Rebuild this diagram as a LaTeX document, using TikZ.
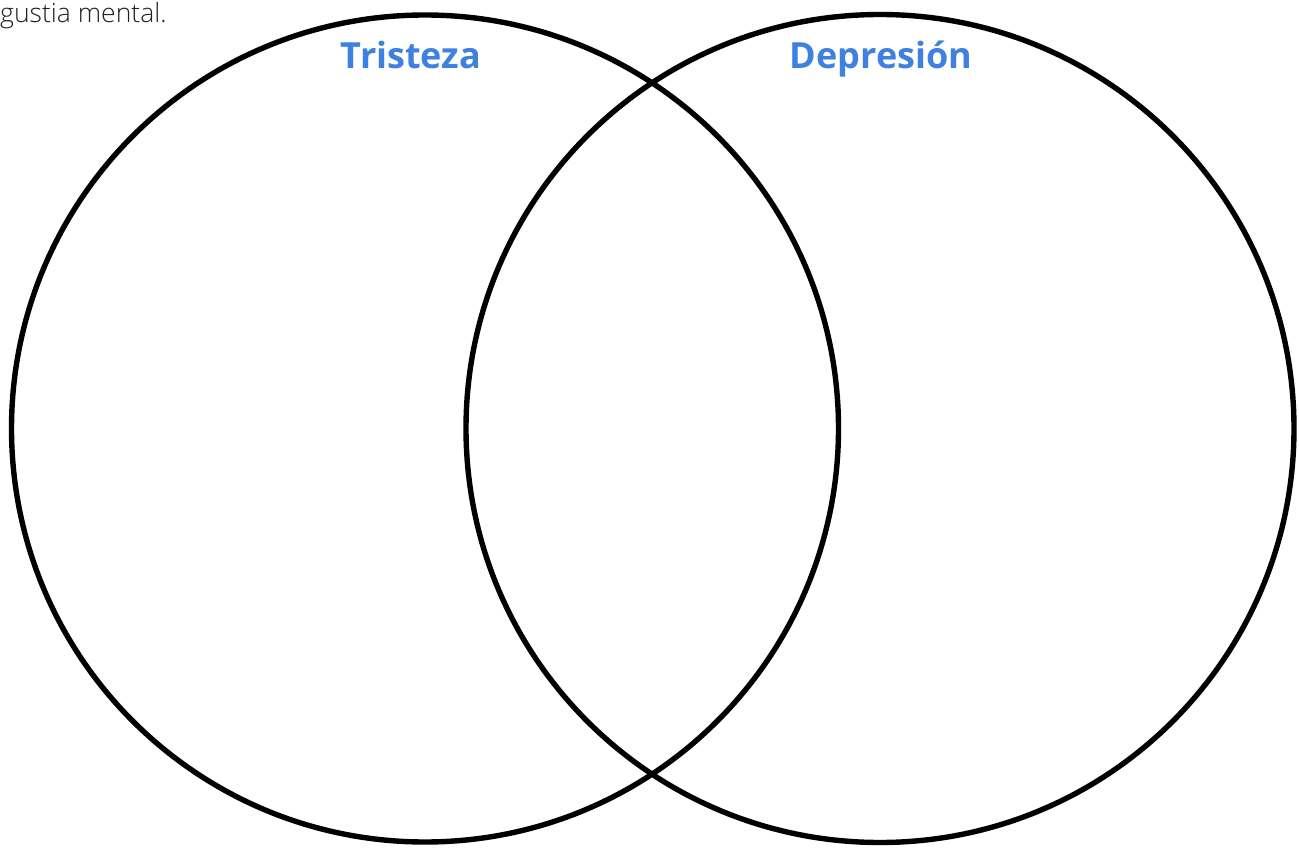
\documentclass[tikz,border=0pt]{standalone}
\usepackage{fontspec}
\setmainfont{Open Sans}
\newfontfamily\lightfont{Open Sans Light}
\usepackage{xcolor}
\definecolor{titleblue}{HTML}{3F81DE}
\definecolor{bodygray}{HTML}{222222}
\begin{document}
\begin{tikzpicture}[x=1pt,y=-1pt,
  venn/.style={circle,draw=black,line width=5.4pt,inner sep=0pt,minimum size=#1},
  title/.style={anchor=base,text=titleblue,font=\fontsize{36}{44}\selectfont\bfseries,inner sep=0pt},
  note/.style={anchor=base west,text=bodygray,font=\lightfont\fontsize{26.5}{32}\selectfont,inner sep=0pt}]
\useasboundingbox[fill=white] (0,0) rectangle (1299,848);
\node[venn=827pt] (left) at (425,428.5) {};
\node[venn=828pt] (right) at (880,428.5) {};
\node[title] (tristeza) at (411,69) {Tristeza};
\node[title] (depresion) at (881,69) {Depresión};
\node[note] (mental) at (0,23) {gustia mental.};
\end{tikzpicture}
\end{document}
